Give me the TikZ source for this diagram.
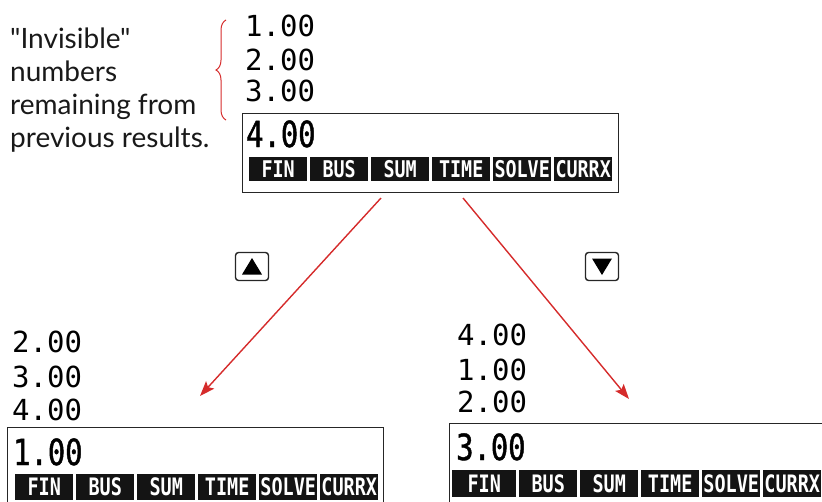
\documentclass[tikz,border=0pt]{standalone}
\usepackage{fontspec}
\newfontfamily\notefont{Lato}
\newfontfamily\lcdstack{DejaVu Sans Mono}
\newfontfamily\lcdmain[FakeStretch=0.8,FakeBold=1.2]{DejaVu Sans Mono}
\newfontfamily\lcdmenu[FakeStretch=0.8]{DejaVu Sans Mono}
\newfontfamily\lcdmenub[FakeStretch=0.77]{DejaVu Sans Mono}
\usetikzlibrary{arrows.meta,decorations.pathreplacing}
\definecolor{markred}{RGB}{213,43,43}
\begin{document}
\begin{tikzpicture}[x=1pt,y=-1pt,
  stacknum/.style={font=\lcdstack\fontsize{29}{29}\selectfont, anchor=base west, inner sep=0pt},
  mainnum/.style={font=\lcdmain\fontsize{36}{36}\selectfont, anchor=base west, inner sep=0pt},
  dispbox/.style={draw=black!85, line width=1.3pt, anchor=north west, minimum width=376pt, inner sep=0pt},
  menucell/.style={fill=black!92, text=white, font=\lcdmenu\bfseries\fontsize{23}{23}\selectfont,
     inner sep=0pt, minimum height=24pt, minimum width=58pt, anchor=north west},
  bigcell/.style={menucell, minimum height=26pt, font=\lcdmenub\bfseries\fontsize{24}{24}\selectfont},
  note/.style={font=\notefont\fontsize{28}{33}\selectfont, anchor=base west, inner sep=0pt, text=black!90},
  keybox/.style={draw=black!85, line width=1.4pt, rounded corners=3pt, minimum width=33pt, minimum height=28pt, inner sep=0pt},
  redarrow/.style={draw=markred, line width=1.4pt, -{Stealth[length=15pt,width=11pt,inset=3pt]}},
  bracestyle/.style={draw=markred, line width=1pt, decorate, decoration={brace, amplitude=10pt}}
]
\useasboundingbox (0,0) rectangle (822,501);
\clip (0,0) rectangle (822,501);

% explanatory note
\node[note] (n1) at (10,48) {"Invisible"};
\node[note] (n2) at (10,81) {numbers};
\node[note] (n3) at (10,114) {remaining from};
\node[note] (n4) at (10,147) {previous results.};

% brace
\coordinate (brbot) at (226,120);
\coordinate (brtop) at (226,20);
\draw[bracestyle] (brbot) -- (brtop);

% top display
\node[stacknum] (ts1) at (245,36) {1.00};
\node[stacknum] (ts2) at (245,70) {2.00};
\node[stacknum] (ts3) at (245,101) {3.00};
\node[dispbox, minimum height=79pt] (topdisp) at (242,113) {};
\node[mainnum] (tmain) at (246,147) {4.00};
\foreach \lab [count=\i from 0] in {FIN,BUS,SUM,TIME,SOLVE,CURRX}
  \node[menucell] (tm\i) at (249+61*\i,157) {\lab};

% keys
\node[keybox] (upkey) at (252,266.5) {};
\fill ([shift={(-10,8)}]upkey.center) -- ([shift={(10,8)}]upkey.center) -- ([shift={(0,-8.5)}]upkey.center) -- cycle;
\node[keybox] (downkey) at (602,266.5) {};
\fill ([shift={(-10,-8)}]downkey.center) -- ([shift={(10,-8)}]downkey.center) -- ([shift={(0,8.5)}]downkey.center) -- cycle;

% arrows
\coordinate (la0) at (381,198);
\coordinate (la1) at (200,396);
\coordinate (ra0) at (463,198);
\coordinate (ra1) at (629,399);
\draw[redarrow] (la0) -- (la1);
\draw[redarrow] (ra0) -- (ra1);

% bottom-left display
\node[stacknum] (ls1) at (12,352) {2.00};
\node[stacknum] (ls2) at (12,387) {3.00};
\node[stacknum] (ls3) at (12,420) {4.00};
\node[dispbox, minimum height=90pt] (leftdisp) at (7,427) {};
\node[mainnum] (lmain) at (13,465) {1.00};
\foreach \lab [count=\i from 0] in {FIN,BUS,SUM,TIME,SOLVE,CURRX}
  \node[bigcell] (lm\i) at (15+61*\i,474) {\lab};

% bottom-right display
\node[stacknum] (rs1) at (457,345) {4.00};
\node[stacknum] (rs2) at (457,380) {1.00};
\node[stacknum] (rs3) at (457,412) {2.00};
\node[dispbox, minimum height=90pt] (rightdisp) at (449,423) {};
\node[mainnum] (rmain) at (456,460) {3.00};
\node[bigcell, minimum height=27pt, minimum width=64pt] (rm0) at (452,470) {FIN};
\foreach \lab [count=\i from 1] in {BUS,SUM,TIME,SOLVE,CURRX}
  \node[bigcell, minimum height=27pt] (rm\i) at (458+61*\i,470) {\lab};
\end{tikzpicture}
\end{document}
